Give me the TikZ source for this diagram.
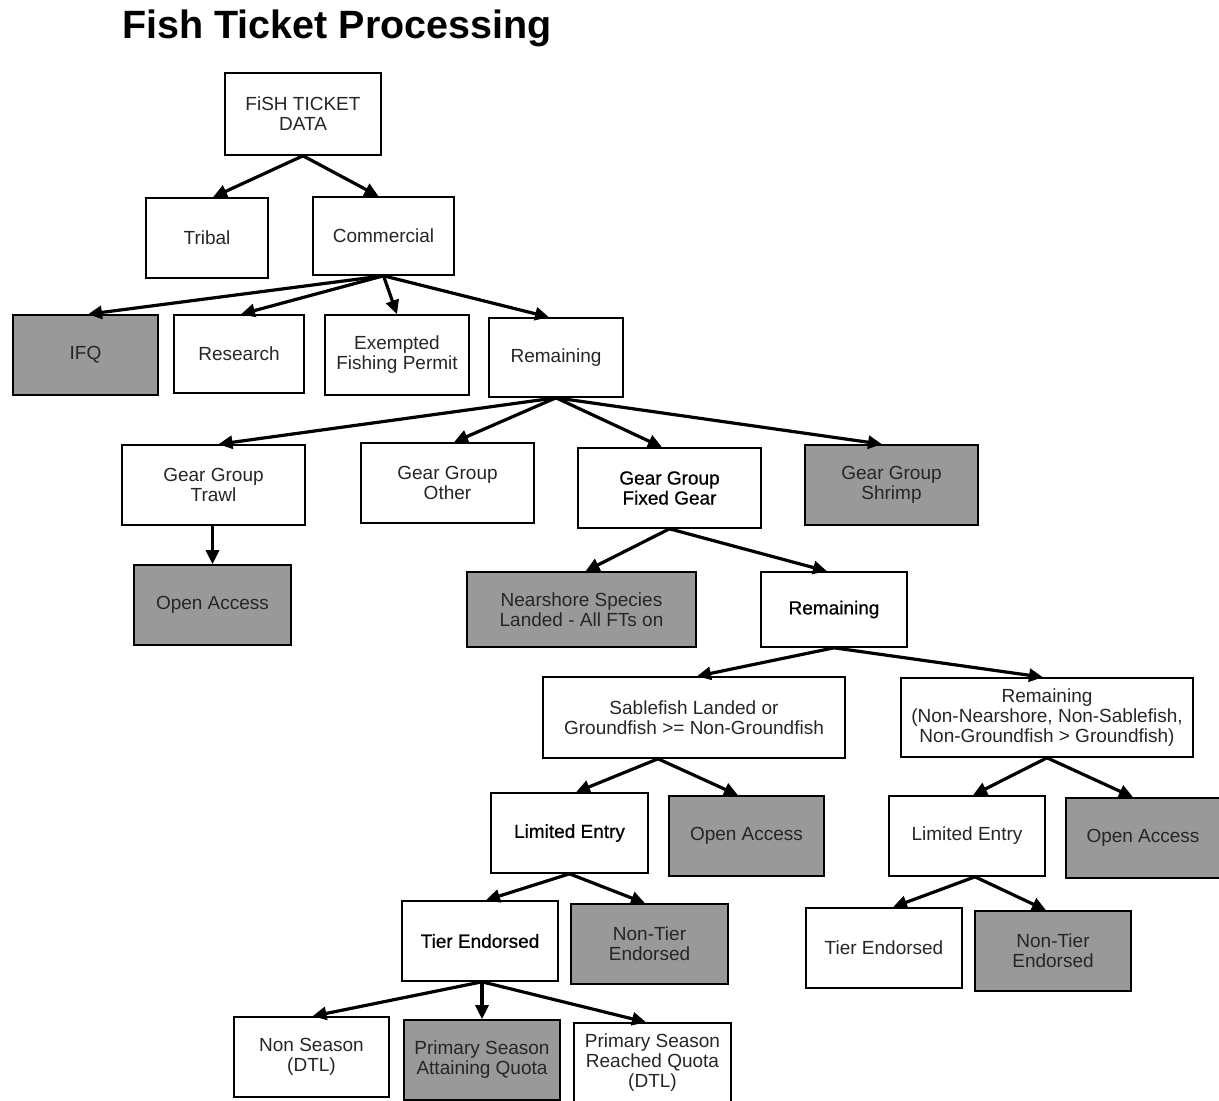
\documentclass[tikz,border=0pt]{standalone}
\usepackage{fontspec}
\setmainfont{Liberation Sans}
\newfontfamily\emfont{Liberation Sans}[FakeBold=0.6]
\usetikzlibrary{arrows.meta}
\definecolor{boxgray}{RGB}{153,153,153}
\tikzset{
  box/.style={draw=black, line width=1.6pt, inner sep=0pt, align=center,
    text=black!85, font=\fontsize{19}{20}\selectfont},
  gbox/.style={box, fill=boxgray},
  embox/.style={box, text=black, font=\fontsize{19}{20}\selectfont\emfont},
  conn/.style={line width=3.2pt, -{Triangle[length=14pt,width=13pt]}},
}
\begin{document}
\begin{tikzpicture}[x=1pt,y=-1pt]
\useasboundingbox (0,0) rectangle (1219,1101);
\fill[white] (0,0) rectangle (1219,1101);
\node[anchor=base west, inner sep=0pt, font=\fontsize{39.5}{41}\selectfont\bfseries] (title) at (122,38) {Fish Ticket Processing};

\node[box, minimum width=156pt, minimum height=82pt] (data) at (303,114) {FiSH TICKET\\DATA};
\node[box, minimum width=122pt, minimum height=80pt] (tribal) at (207,238) {Tribal};
\node[box, minimum width=141pt, minimum height=78pt] (comm) at (383.5,236) {Commercial};

\node[gbox, minimum width=145pt, minimum height=80pt] (ifq) at (85.5,355) {IFQ};
\node[box, minimum width=130pt, minimum height=78pt] (research) at (239,354) {Research};
\node[box, minimum width=144pt, minimum height=80pt] (efp) at (397,355) {Exempted\\Fishing Permit};
\node[box, minimum width=134pt, minimum height=79pt] (rem1) at (556,357.5) {Remaining};

\node[box, minimum width=183pt, minimum height=80pt] (trawl) at (213.5,485) {Gear Group\\Trawl};
\node[box, minimum width=173pt, minimum height=80pt] (other) at (447.5,483) {Gear Group\\Other};
\node[embox, minimum width=183pt, minimum height=80pt] (fixed) at (669.5,488) {Gear Group\\Fixed Gear};
\node[gbox, minimum width=173pt, minimum height=80pt] (shrimp) at (891.5,485) {Gear Group\\Shrimp};

\node[gbox, minimum width=157pt, minimum height=80pt] (oatrawl) at (212.5,605) {Open Access};
\node[gbox, minimum width=229pt, minimum height=75pt] (near) at (581.5,609.5) {Nearshore Species\\Landed - All FTs on};
\node[embox, minimum width=146pt, minimum height=75pt] (rem2) at (834,609.5) {Remaining};

\node[box, minimum width=302pt, minimum height=81pt] (sable) at (694,717.5) {Sablefish Landed or\\Groundfish >= Non-Groundfish};
\node[box, minimum width=292pt, minimum height=79pt] (rem3) at (1047,717.5) {Remaining\\(Non-Nearshore, Non-Sablefish,\\Non-Groundfish > Groundfish)};

\node[embox, minimum width=157pt, minimum height=80pt] (le1) at (569.5,833) {Limited Entry};
\node[gbox, minimum width=155pt, minimum height=80pt] (oa2) at (746.5,836) {Open Access};
\node[box, minimum width=156pt, minimum height=80pt] (le2) at (967,836) {Limited Entry};
\node[gbox, minimum width=154pt, minimum height=80pt] (oa3) at (1143,838) {Open Access};

\node[embox, minimum width=156pt, minimum height=80pt] (tier1) at (480,941) {Tier Endorsed};
\node[gbox, minimum width=157pt, minimum height=80pt] (nt1) at (649.5,944) {Non-Tier\\Endorsed};
\node[box, minimum width=156pt, minimum height=80pt] (tier2) at (884,948) {Tier Endorsed};
\node[gbox, minimum width=156pt, minimum height=80pt] (nt2) at (1053,951) {Non-Tier\\Endorsed};

\node[box, minimum width=155pt, minimum height=80pt] (nons) at (311.5,1057) {Non Season\\(DTL)};
\node[gbox, minimum width=156pt, minimum height=80pt] (att) at (482,1060) {Primary Season\\Attaining Quota};
\node[box, minimum width=157pt, minimum height=79pt] (reach) at (652.5,1062.5) {Primary Season\\Reached Quota\\(DTL)};

% connectors
\draw[conn] (data.south) -- ([xshift=6pt]tribal.north);
\draw[conn] (data.south) -- ([xshift=-5pt]comm.north);

\draw[conn] (comm.south) -- ([xshift=2.5pt]ifq.north);
\draw[conn] (comm.south) -- ([xshift=2pt]research.north);
\draw[conn] (comm.south) -- (efp.north);
\draw[conn] (comm.south) -- ([xshift=-7pt]rem1.north);

\draw[conn] (rem1.south) -- ([xshift=5pt]trawl.north);
\draw[conn] (rem1.south) -- ([xshift=6.5pt]other.north);
\draw[conn] (rem1.south) -- ([xshift=-7.5pt]fixed.north);
\draw[conn] (rem1.south) -- ([xshift=-9.5pt]shrimp.north);

\draw[conn] (trawl.south -| oatrawl.north) -- (oatrawl.north);

\draw[conn] (fixed.south) -- ([xshift=4pt]near.north);
\draw[conn] (fixed.south) -- ([xshift=-7pt]rem2.north);

\draw[conn] (rem2.south) -- ([xshift=3pt]sable.north);
\draw[conn] (rem2.south) -- ([xshift=-4pt]rem3.north);

\draw[conn] ([xshift=-36pt]sable.south) -- ([xshift=6.5pt]le1.north);
\draw[conn] ([xshift=-36pt]sable.south) -- ([xshift=-8.5pt]oa2.north);

\draw[conn] (rem3.south) -- ([xshift=6pt]le2.north);
\draw[conn] (rem3.south) -- ([xshift=-10pt]oa3.north);

\draw[conn] (le1.south) -- ([xshift=6pt]tier1.north);
\draw[conn] (le1.south) -- ([xshift=-4.5pt]nt1.north);

\draw[conn] ([xshift=8pt]le2.south) -- ([xshift=9pt]tier2.north);
\draw[conn] ([xshift=8pt]le2.south) -- ([xshift=-7pt]nt2.north);

\draw[conn] ([xshift=2pt]tier1.south) -- ([xshift=1pt]nons.north);
\draw[conn] ([xshift=2pt]tier1.south) -- (att.north);
\draw[conn] ([xshift=2pt]tier1.south) -- ([xshift=-6.5pt]reach.north);
\end{tikzpicture}
\end{document}
